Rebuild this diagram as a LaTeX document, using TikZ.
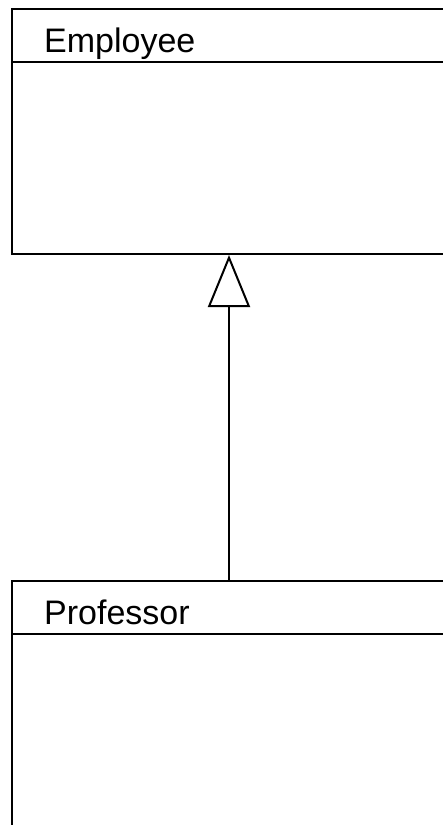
\documentclass[tikz,border=0pt]{standalone}
\usepackage{fontspec}
\setmainfont{Liberation Sans}
\usetikzlibrary{positioning,arrows.meta}

\tikzset{
  classbox/.style={draw,line width=2pt,minimum width=434pt,minimum height=245pt,
    anchor=north west,inner sep=0pt},
  classname/.style={font=\fontsize{34}{40}\selectfont,anchor=base west,inner sep=0pt},
  inherit/.style={line width=2pt,-{Triangle[open,length=52pt,width=42pt]}}
}

\begin{document}
\begin{tikzpicture}[x=1pt,y=-1pt]
  \useasboundingbox (0,0) rectangle (443,825);
  \clip (0,0) rectangle (443,825);

  % classes
  \node[classbox] (employee) at (11,8) {};
  \node[classbox,minimum height=260pt] (professor) at (11,580) {};

  \node[classname] (employeename) at ([xshift=33pt,yshift=-44pt]employee.north west) {Employee};
  \node[classname] (professorname) at ([xshift=33pt,yshift=-44pt]professor.north west) {Professor};

  \draw[line width=2pt] ([yshift=-54pt]employee.north west) -- ([yshift=-54pt]employee.north east);
  \draw[line width=2pt] ([yshift=-54pt]professor.north west) -- ([yshift=-54pt]professor.north east);

  % generalization
  \draw[inherit] (professor.north) -- (employee.south);
\end{tikzpicture}
\end{document}
